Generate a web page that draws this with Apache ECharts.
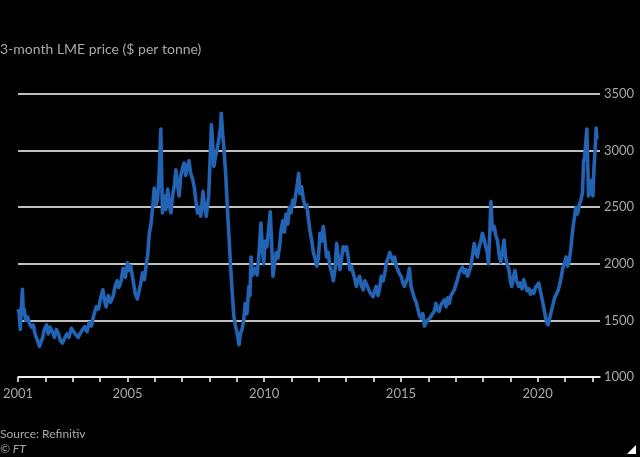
<!DOCTYPE html>
<html>
<head>
<meta charset="utf-8">
<script src="https://cdn.jsdelivr.net/npm/echarts@6/dist/echarts.min.js"></script>
<style>
html,body{margin:0;padding:0;background:#000;}
#c{width:640px;height:457px;}
</style>
</head>
<body>
<div id="c"></div>
<script>
// Decimal-year positions and 3-month LME aluminium price ($ per tonne)
const years = [
2001.00,2001.04,2001.08,2001.12,2001.16,2001.19,2001.22,2001.28,2001.35,2001.42,2001.50,2001.56,2001.62,2001.70,2001.78,2001.84,2001.90,2001.96,
2002.04,2002.10,2002.17,2002.25,2002.33,2002.40,2002.48,2002.55,2002.62,2002.70,2002.78,2002.86,2002.95,
2003.03,2003.12,2003.20,2003.28,2003.36,2003.44,2003.52,2003.60,2003.68,2003.76,2003.86,2003.94,
2004.02,2004.10,2004.16,2004.22,2004.30,2004.38,2004.47,2004.55,2004.62,2004.68,2004.76,2004.84,2004.92,
2005.00,2005.06,2005.12,2005.20,2005.28,2005.36,2005.42,2005.48,2005.55,2005.62,2005.68,2005.74,2005.80,2005.86,2005.92,2005.98,
2006.04,2006.10,2006.16,2006.22,2006.25,2006.28,2006.34,2006.40,2006.47,2006.53,2006.59,2006.65,2006.72,2006.77,2006.83,2006.89,2006.95,
2007.02,2007.07,2007.13,2007.19,2007.25,2007.31,2007.38,2007.44,2007.50,2007.56,2007.62,2007.68,2007.72,2007.76,2007.82,2007.88,2007.92,2007.97,
2008.02,2008.07,2008.12,2008.16,2008.22,2008.28,2008.34,2008.40,2008.43,2008.48,2008.53,2008.59,2008.65,2008.71,2008.77,2008.83,2008.89,2008.95,
2009.01,2009.05,2009.08,2009.13,2009.19,2009.25,2009.31,2009.37,2009.44,2009.48,2009.52,2009.57,2009.62,2009.68,2009.74,2009.80,2009.84,2009.88,2009.93,2009.98,
2010.04,2010.10,2010.15,2010.22,2010.27,2010.32,2010.38,2010.44,2010.50,2010.56,2010.62,2010.68,2010.74,2010.80,2010.86,2010.92,2010.98,
2011.04,2011.10,2011.16,2011.22,2011.26,2011.31,2011.37,2011.44,2011.50,2011.56,2011.62,2011.68,2011.74,2011.80,2011.86,2011.92,2011.98,
2012.04,2012.10,2012.16,2012.22,2012.28,2012.34,2012.40,2012.47,2012.53,2012.59,2012.65,2012.71,2012.77,2012.83,2012.89,2012.95,
2013.01,2013.07,2013.13,2013.19,2013.25,2013.31,2013.37,2013.43,2013.49,2013.55,2013.62,2013.68,2013.74,2013.80,2013.86,2013.92,2013.98,
2014.04,2014.10,2014.16,2014.22,2014.28,2014.35,2014.41,2014.47,2014.53,2014.59,2014.65,2014.71,2014.77,2014.83,2014.89,2014.95,
2015.01,2015.07,2015.13,2015.19,2015.25,2015.31,2015.37,2015.44,2015.50,2015.56,2015.62,2015.68,2015.74,2015.80,2015.86,2015.92,2015.98,
2016.04,2016.10,2016.16,2016.22,2016.28,2016.34,2016.40,2016.47,2016.53,2016.59,2016.65,2016.71,2016.77,2016.83,2016.89,2016.95,
2017.01,2017.07,2017.13,2017.19,2017.25,2017.31,2017.38,2017.44,2017.50,2017.56,2017.62,2017.68,2017.74,2017.80,2017.86,2017.92,2017.98,
2018.04,2018.10,2018.16,2018.20,2018.24,2018.29,2018.33,2018.38,2018.41,2018.47,2018.53,2018.59,2018.65,2018.71,2018.77,2018.83,2018.89,2018.95,
2019.00,2019.05,2019.11,2019.17,2019.23,2019.31,2019.37,2019.43,2019.49,2019.55,2019.62,2019.68,2019.74,2019.80,2019.86,2019.92,2019.98,
2020.04,2020.10,2020.16,2020.22,2020.28,2020.33,2020.38,2020.44,2020.50,2020.56,2020.62,2020.68,2020.74,2020.80,2020.86,2020.92,2020.98,
2021.04,2021.10,2021.16,2021.22,2021.28,2021.34,2021.40,2021.46,2021.52,2021.58,2021.64,2021.68,2021.72,2021.77,2021.80,2021.83,2021.86,2021.90,2021.95,2021.98,
2022.02,2022.06,2022.10,2022.14,2022.17
];
const prices = [
1600,1560,1420,1620,1775,1560,1600,1500,1530,1470,1440,1460,1380,1330,1270,1310,1350,1420,
1460,1380,1440,1400,1350,1420,1380,1320,1300,1340,1380,1350,1430,
1400,1370,1350,1390,1420,1445,1400,1480,1450,1540,1620,1600,
1700,1770,1680,1620,1720,1660,1710,1800,1850,1790,1840,1960,1880,
2010,1940,1980,1860,1740,1690,1700,1820,1920,1860,1980,2080,2270,2350,2500,2670,
2520,2570,2800,3190,2800,2450,2600,2480,2660,2520,2450,2600,2700,2830,2700,2600,2780,
2850,2890,2780,2860,2910,2800,2750,2680,2560,2450,2500,2420,2520,2640,2500,2420,2430,2600,
2900,3230,3050,2860,2950,3010,3100,3200,3330,3150,3010,2800,2510,2250,1980,1750,1540,1450,
1390,1330,1285,1380,1420,1500,1650,1560,1800,1720,2060,1900,1890,1960,1900,2060,2200,2360,2150,2000,
2200,2150,2280,2460,2200,1890,2000,2100,2050,2150,2300,2380,2280,2440,2350,2500,2450,
2560,2520,2620,2720,2800,2620,2680,2560,2500,2520,2390,2280,2200,2100,2050,1980,2050,
2270,2200,2330,2200,2060,2100,1980,1920,1850,1950,2180,2050,1950,2050,2150,2120,
2150,2060,1950,1980,1920,1870,1800,1860,1890,1810,1770,1850,1820,1830,1750,1760,1710,
1760,1800,1720,1780,1890,1850,1920,2010,2050,2100,2060,2020,2060,1980,1970,1910,
1890,1830,1800,1840,1880,1960,1800,1740,1690,1660,1600,1540,1520,1560,1450,1480,1500,
1500,1535,1560,1580,1650,1600,1580,1640,1660,1680,1620,1700,1650,1720,1730,1770,
1780,1860,1920,1950,1970,1920,1950,1890,1900,1980,2080,2180,2100,2060,2150,2200,2270,
2220,2150,2100,2000,2200,2550,2350,2300,2330,2250,2210,2080,2010,2100,2210,2050,1990,1950,
1850,1800,1880,1940,1850,1800,1830,1780,1860,1810,1760,1780,1730,1760,1740,1790,1780,
1830,1760,1690,1620,1540,1480,1460,1520,1580,1640,1700,1730,1760,1810,1880,1960,2010,
2060,1980,2030,2150,2300,2400,2500,2440,2520,2560,2630,2900,2950,3100,3190,2900,2600,2680,2620,2740,
2600,2850,3000,3200,3100
];
const yearTicks = [2001,2002,2003,2004,2005,2006,2007,2008,2009,2010,2011,2012,2013,2014,2015,2016,2017,2018,2019,2020,2021,2022];
const yearLabels = [2001,2005,2010,2015,2020];
const priceTicks = [1000,1500,2000,2500,3000,3500];

const data = years.map((y, i) => [y, prices[i]]);
const font = 'Lato, "Noto Sans", sans-serif';
const chart = echarts.init(document.getElementById('c'), null, {renderer: 'canvas'});
chart.setOption({
  backgroundColor: '#000000',
  animation: false,
  title: [
    {text: '3-month LME price ($ per tonne)', left: 0, top: 42, padding: 0,
     textStyle: {color: '#a8a8a8', fontSize: 14, fontWeight: 'normal', fontFamily: font}},
    {text: 'Source: Refinitiv', left: 0, top: 428, padding: 0,
     textStyle: {color: '#a8a8a8', fontSize: 12, fontWeight: 'normal', fontFamily: font}},
    {text: '© FT', left: 0, top: 443, padding: 0,
     textStyle: {color: '#a8a8a8', fontSize: 12, fontWeight: 'normal', fontStyle: 'italic', fontFamily: font}}
  ],
  graphic: [
    {type: 'polygon', shape: {points: [[636, 445], [636, 454], [627, 454]]}, style: {fill: '#ffffff'}}
  ],
  grid: {left: 15, right: 40, top: 94, bottom: 80},
  xAxis: {
    type: 'value', min: 2001, max: 2022.28, interval: 1,
    axisLine: {show: true, lineStyle: {color: '#ffffff', width: 1.5}},
    axisTick: {show: true, customValues: yearTicks, length: 5, inside: false, lineStyle: {color: '#ffffff', width: 1.5}},
    axisLabel: {customValues: yearLabels, color: '#a8a8a8', fontSize: 13, fontFamily: font, margin: 10,
      formatter: v => String(v)},
    splitLine: {show: false}
  },
  yAxis: {
    type: 'value', position: 'right', min: 1000, max: 3500, interval: 500,
    axisLine: {show: false}, axisTick: {show: false},
    axisLabel: {color: '#a8a8a8', fontSize: 13, fontFamily: font, margin: 4, formatter: v => String(v)},
    splitLine: {show: true, lineStyle: {color: '#ffffff', width: 1.5}}
  },
  series: [{
    type: 'line', data: data, showSymbol: false, smooth: false,
    lineStyle: {color: '#2263b4', width: 3.6, join: 'round'}
  }]
});
</script>
</body>
</html>
